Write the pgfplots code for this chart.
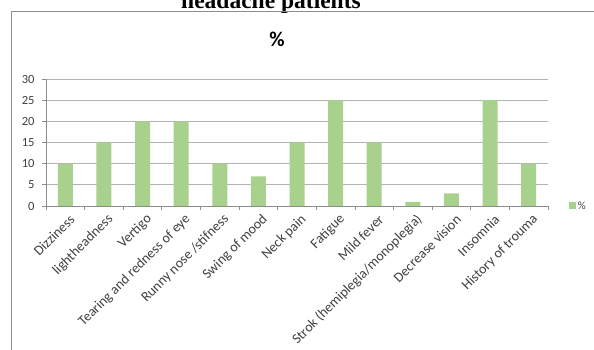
\documentclass[border=0pt]{standalone}
\usepackage{fontspec}
\setmainfont{Liberation Serif}
\newfontfamily\calibri{Carlito}
\usepackage{pgfplots}
\pgfplotsset{compat=1.18}
\definecolor{barg}{HTML}{A9D18E}
\definecolor{gridc}{HTML}{B3B3B3}
\definecolor{axc}{HTML}{8C8C8C}
\definecolor{labc}{HTML}{404040}
\begin{document}
\begin{tikzpicture}[x=1pt,y=1pt]
\path[use as bounding box, clip] (0,0) rectangle (594,350);
\fill[white] (0,0) rectangle (594,350);
\node[font=\bfseries\fontsize{23.5}{24}\selectfont, anchor=base] at (271,341) {headache patients};
\draw[axc, line width=1pt] (11,-20) -- (11,338) -- (620,338);
\node[font=\calibri\bfseries\fontsize{21}{22}\selectfont] at (277,311) {\%};
\begin{axis}[
  at={(46pt,144pt)}, anchor=south west, scale only axis,
  width=502pt, height=127pt,
  xmin=-0.5, xmax=12.5, ymin=0, ymax=30,
  ytick={0,5,...,30},
  xtick={0,...,12},
  xticklabels={Dizziness, lightheadness, Vertigo, Tearing and redness of eye, Runny nose /stifness, Swing of mood, Neck pain, Fatigue, Mild fever, Strok (hemiplegia/monoplegia), Decrease vision, Insomnia, History of trouma},
  minor xtick={-0.5,0.5,...,12.5},
  major x tick style={draw=none},
  tick align=outside, tick pos=left,
  major tick length=4pt, minor tick length=4pt,
  every tick/.style={axc, line width=0.8pt},
  axis x line*=bottom, axis y line*=left,
  axis line style={axc, line width=0.8pt},
  ymajorgrids, grid style={gridc, line width=0.8pt},
  /pgf/number format/assume math mode=true,
  yticklabel style={font=\calibri\fontsize{12.5}{13}\selectfont, text=labc, xshift=-4pt},
  xticklabel style={font=\calibri\fontsize{14}{15}\selectfont, text=labc, rotate=45, anchor=east, inner sep=1pt, xshift=1pt, yshift=-10pt},
  bar width=15pt,
  legend style={at={(axis description cs:1.035,0)}, anchor=west, draw=none, fill=none, font=\calibri\fontsize{11}{12}\selectfont, text=labc},
  legend image code/.code={\fill[barg] (0pt,-3.5pt) rectangle (7pt,3.5pt);},
]
\addplot[ybar, fill=barg, draw=none] coordinates {
(0,10) (1,15) (2,20) (3,20) (4,10) (5,7) (6,15) (7,25) (8,15) (9,1) (10,3) (11,25) (12,10)};
\addlegendentry{\%}
\end{axis}
\end{tikzpicture}
\end{document}
